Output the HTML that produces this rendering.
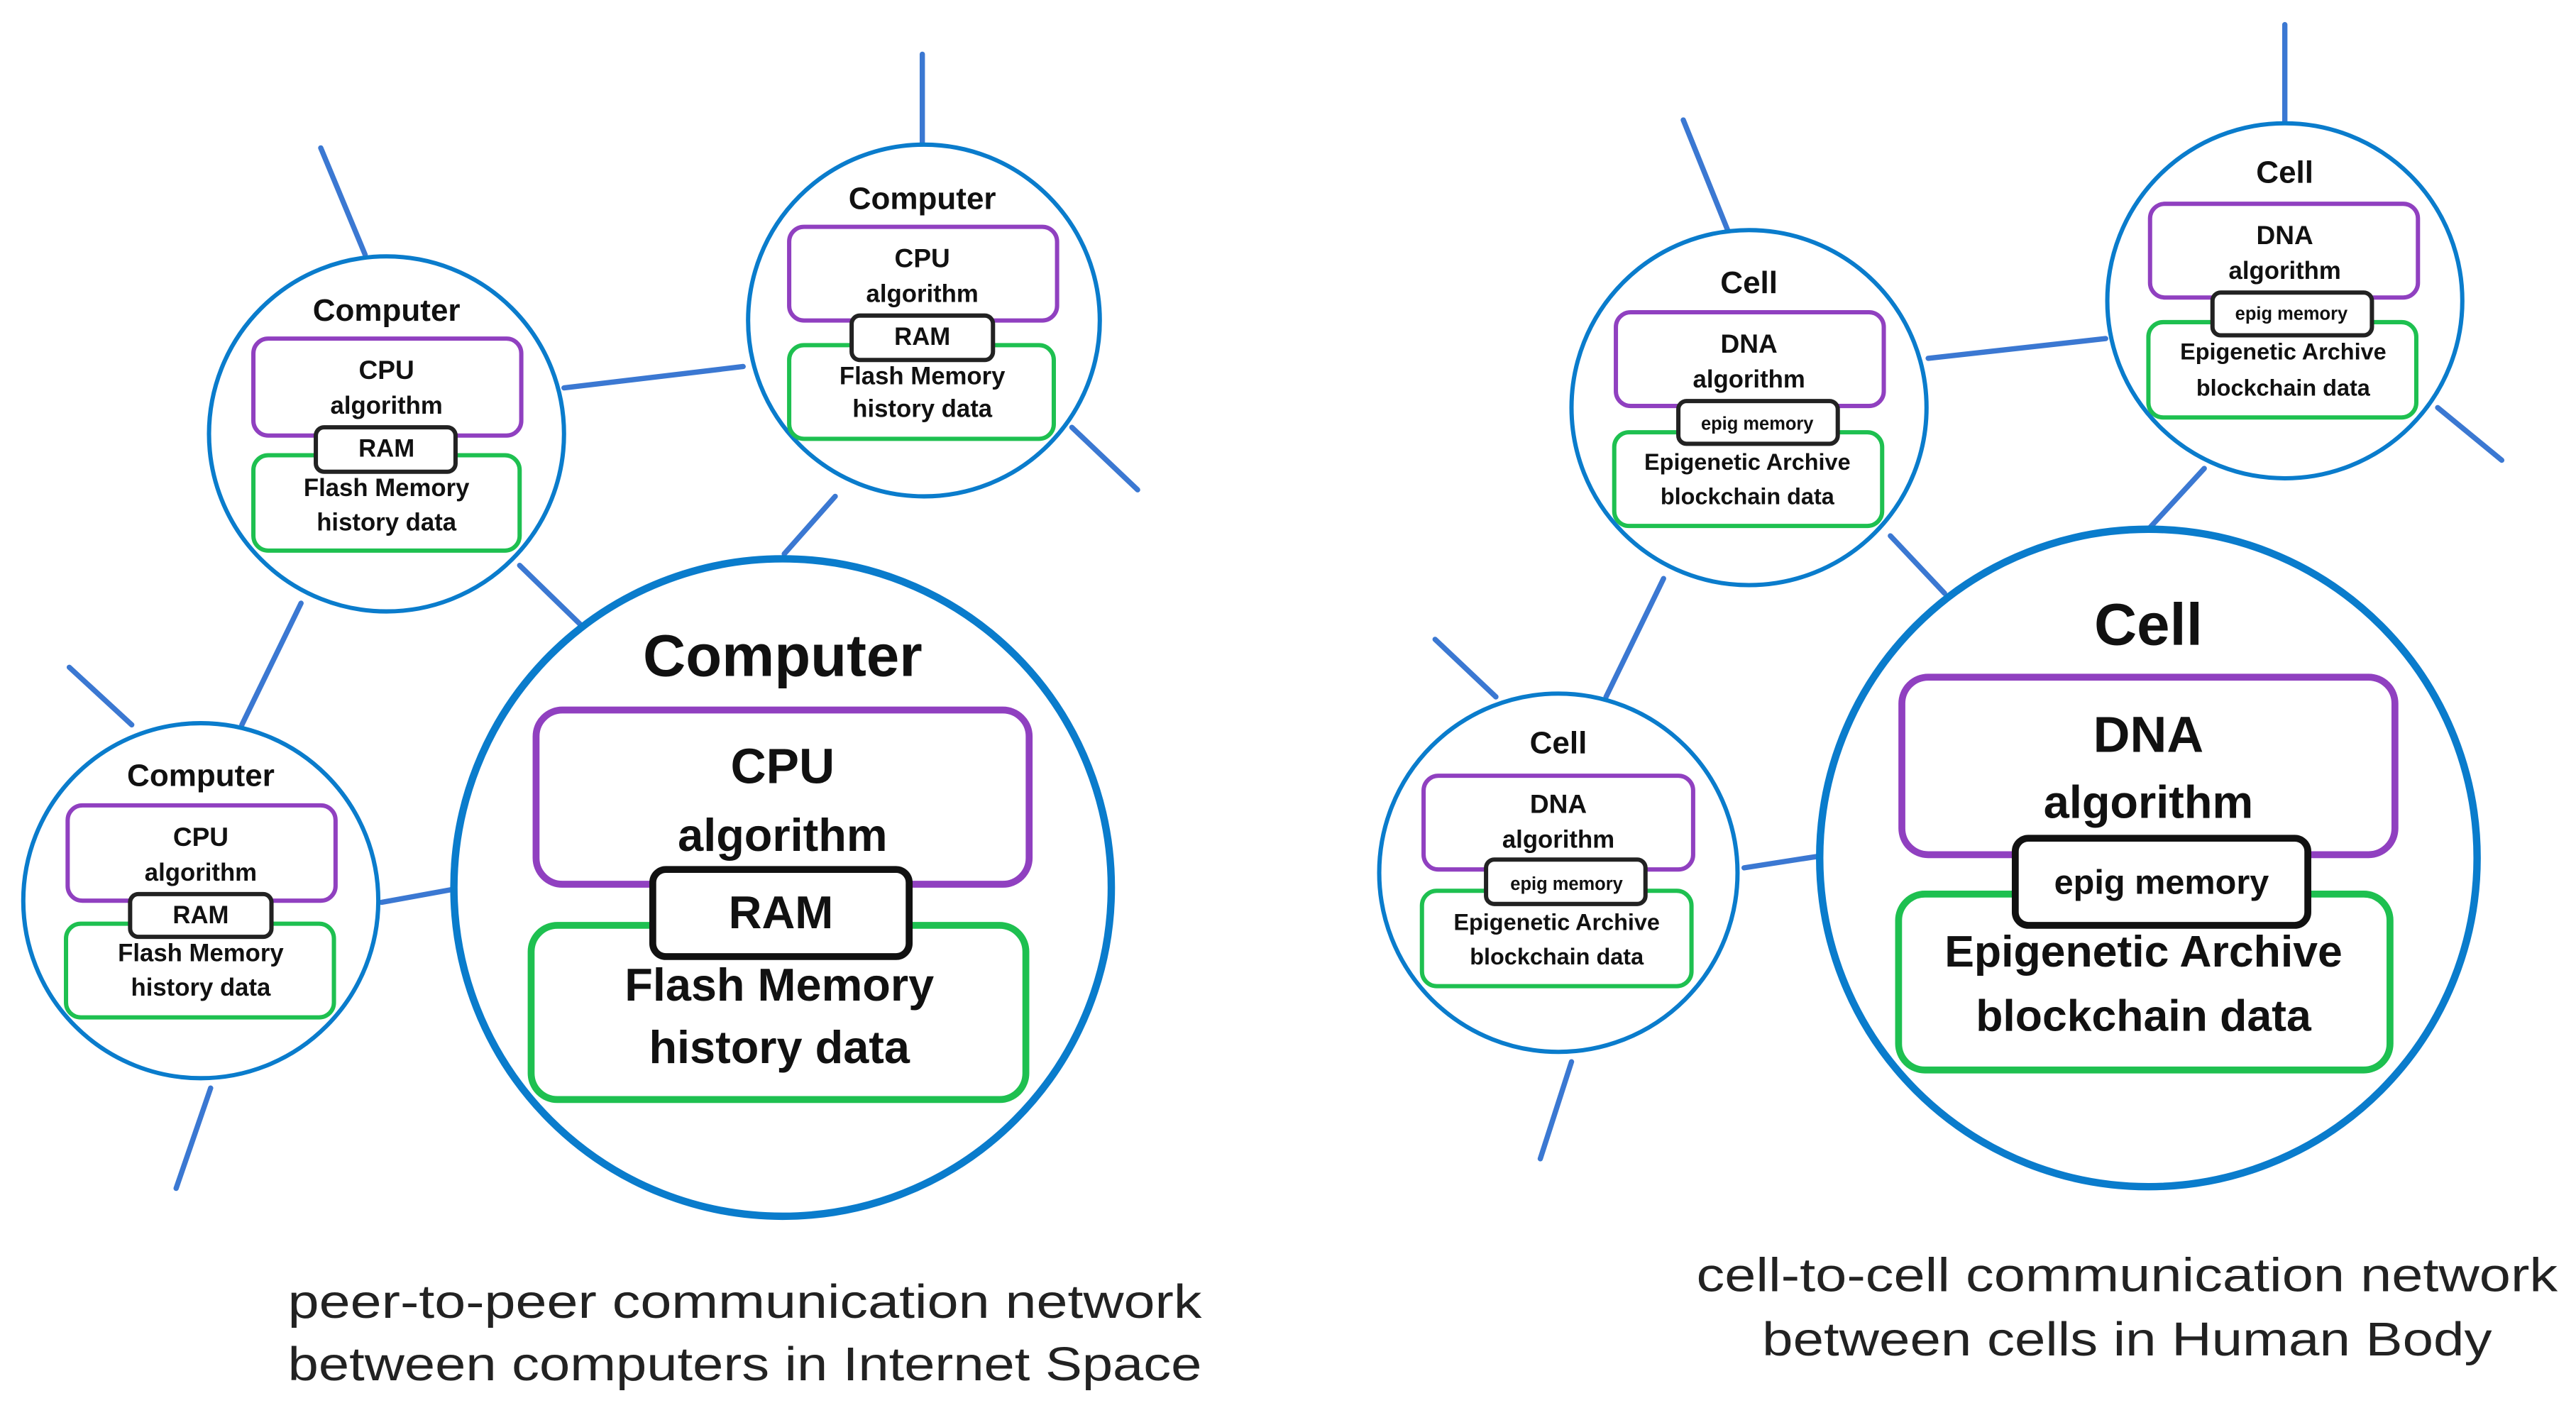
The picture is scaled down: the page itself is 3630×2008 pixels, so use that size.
<!DOCTYPE html>
<html><head><meta charset="utf-8"><style>
html,body{margin:0;padding:0;background:#fff;}
svg{display:block;}
text{font-family:"Liberation Sans",sans-serif;text-anchor:middle;dominant-baseline:central;fill:#111;}
.b{font-weight:bold;}
.cap{font-weight:normal;fill:#222;}
</style></head><body>
<svg width="3630" height="2008" viewBox="0 0 1567 867" xmlns="http://www.w3.org/2000/svg">
<rect width="1567" height="867" fill="#fff"/>
<g stroke="#3b78d2" stroke-width="3.2" fill="none" stroke-linecap="round">
<line x1="195" y1="90" x2="222" y2="155"/>
<line x1="561" y1="33" x2="561" y2="90"/>
<line x1="652" y1="260" x2="692" y2="298"/>
<line x1="343" y1="236" x2="452" y2="223"/>
<line x1="316" y1="344" x2="353" y2="380"/>
<line x1="477" y1="337" x2="508" y2="302"/>
<line x1="183" y1="367" x2="147" y2="441"/>
<line x1="42" y1="406" x2="80" y2="441"/>
<line x1="232" y1="549" x2="276" y2="541"/>
<line x1="128" y1="662" x2="107" y2="723"/>
<line x1="1024" y1="73" x2="1051" y2="140"/>
<line x1="1390" y1="15" x2="1390" y2="75"/>
<line x1="1483" y1="248" x2="1522" y2="280"/>
<line x1="1173" y1="218" x2="1281" y2="206"/>
<line x1="1150" y1="326" x2="1183" y2="361"/>
<line x1="1307" y1="322" x2="1341" y2="285"/>
<line x1="1012" y1="352" x2="977" y2="424"/>
<line x1="873" y1="389" x2="910" y2="424"/>
<line x1="1061" y1="528" x2="1106" y2="521"/>
<line x1="956" y1="646" x2="937" y2="705"/>
</g>
<g fill="#fff" stroke="#0a7ccc">
<circle cx="235" cy="264" r="108" stroke-width="2.6"/>
<circle cx="562" cy="195" r="107" stroke-width="2.6"/>
<circle cx="122" cy="548" r="108" stroke-width="2.6"/>
<circle cx="476" cy="540" r="200" stroke-width="4.5"/>
<circle cx="1064" cy="248" r="108" stroke-width="2.6"/>
<circle cx="1390" cy="183" r="108" stroke-width="2.6"/>
<circle cx="948" cy="531" r="109" stroke-width="2.6"/>
<circle cx="1307" cy="522" r="200" stroke-width="4.5"/>
</g>
<!-- boxes small -->
<g fill="#fff" stroke-width="2.6">
<rect x="154" y="206" width="163" height="59" rx="9" stroke="#9040c0"/>
<rect x="154" y="277" width="162" height="58" rx="9" stroke="#1ec050"/>
<rect x="192" y="260" width="85" height="27" rx="5" stroke="#222"/>
<rect x="480" y="138" width="163" height="57" rx="9" stroke="#9040c0"/>
<rect x="480" y="210" width="161" height="57" rx="9" stroke="#1ec050"/>
<rect x="518" y="192" width="86" height="27" rx="5" stroke="#222"/>
<rect x="41" y="490" width="163" height="58" rx="9" stroke="#9040c0"/>
<rect x="40" y="562" width="163" height="57" rx="9" stroke="#1ec050"/>
<rect x="79" y="544" width="86" height="26" rx="5" stroke="#222"/>
<rect x="983" y="190" width="163" height="57" rx="9" stroke="#9040c0"/>
<rect x="982" y="263" width="163" height="57" rx="9" stroke="#1ec050"/>
<rect x="1021" y="244" width="97" height="26" rx="5" stroke="#222"/>
<rect x="1308" y="124" width="163" height="57" rx="9" stroke="#9040c0"/>
<rect x="1307" y="196" width="163" height="58" rx="9" stroke="#1ec050"/>
<rect x="1346" y="178" width="97" height="26" rx="5" stroke="#222"/>
<rect x="866" y="472" width="164" height="57" rx="9" stroke="#9040c0"/>
<rect x="865" y="542" width="164" height="58" rx="9" stroke="#1ec050"/>
<rect x="904" y="523" width="97" height="27" rx="5" stroke="#222"/>
</g>
<g fill="#fff" stroke-width="4.2">
<rect x="326" y="432" width="300" height="106" rx="16" stroke="#9040c0"/>
<rect x="323" y="563" width="301" height="106" rx="16" stroke="#1ec050"/>
<rect x="397" y="529" width="156" height="53" rx="8" stroke="#111"/>
<rect x="1157" y="412" width="300" height="108" rx="16" stroke="#9040c0"/>
<rect x="1155" y="544" width="299" height="107" rx="16" stroke="#1ec050"/>
<rect x="1226" y="510" width="178" height="53" rx="8" stroke="#111"/>
</g>
<!-- small computer text -->
<g class="b">
<text x="235" y="189" font-size="19" class="b">Computer</text>
<text x="235" y="225" font-size="16" class="b">CPU</text>
<text x="235" y="247" font-size="15" class="b">algorithm</text>
<text x="235" y="273" font-size="15" class="b">RAM</text>
<text x="235" y="297" font-size="15" class="b">Flash Memory</text>
<text x="235" y="318" font-size="15" class="b">history data</text>
<text x="561" y="121" font-size="19" class="b">Computer</text>
<text x="561" y="157" font-size="16" class="b">CPU</text>
<text x="561" y="179" font-size="15" class="b">algorithm</text>
<text x="561" y="205" font-size="15" class="b">RAM</text>
<text x="561" y="229" font-size="15" class="b">Flash Memory</text>
<text x="561" y="249" font-size="15" class="b">history data</text>
<text x="122" y="472" font-size="19" class="b">Computer</text>
<text x="122" y="509" font-size="16" class="b">CPU</text>
<text x="122" y="531" font-size="15" class="b">algorithm</text>
<text x="122" y="557" font-size="15" class="b">RAM</text>
<text x="122" y="580" font-size="15" class="b">Flash Memory</text>
<text x="122" y="601" font-size="15" class="b">history data</text>
<text x="476" y="399" font-size="36" class="b">Computer</text>
<text x="476" y="466" font-size="30" class="b">CPU</text>
<text x="476" y="508" font-size="28" class="b">algorithm</text>
<text x="475" y="555" font-size="28" class="b">RAM</text>
<text x="474" y="599" font-size="28" class="b">Flash Memory</text>
<text x="474" y="637" font-size="28" class="b">history data</text>
<text x="1064" y="172" font-size="19" class="b">Cell</text>
<text x="1064" y="209" font-size="16" class="b">DNA</text>
<text x="1064" y="231" font-size="15" class="b">algorithm</text>
<text x="1069" y="258" font-size="11" class="b">epig memory</text>
<text x="1063" y="281" font-size="14" class="b">Epigenetic Archive</text>
<text x="1063" y="302" font-size="14" class="b">blockchain data</text>
<text x="1390" y="105" font-size="19" class="b">Cell</text>
<text x="1390" y="143" font-size="16" class="b">DNA</text>
<text x="1390" y="165" font-size="15" class="b">algorithm</text>
<text x="1394" y="191" font-size="11" class="b">epig memory</text>
<text x="1389" y="214" font-size="14" class="b">Epigenetic Archive</text>
<text x="1389" y="236" font-size="14" class="b">blockchain data</text>
<text x="948" y="452" font-size="19" class="b">Cell</text>
<text x="948" y="489" font-size="16" class="b">DNA</text>
<text x="948" y="511" font-size="15" class="b">algorithm</text>
<text x="953" y="538" font-size="11" class="b">epig memory</text>
<text x="947" y="561" font-size="14" class="b">Epigenetic Archive</text>
<text x="947" y="582" font-size="14" class="b">blockchain data</text>
<text x="1307" y="380" font-size="36" class="b">Cell</text>
<text x="1307" y="447" font-size="31" class="b">DNA</text>
<text x="1307" y="488" font-size="28" class="b">algorithm</text>
<text x="1315" y="537" font-size="21" class="b">epig memory</text>
<text x="1304" y="579" font-size="27" class="b">Epigenetic Archive</text>
<text x="1304" y="618" font-size="27" class="b">blockchain data</text>
</g>
<text x="453" y="792" font-size="29" class="cap" textLength="556" lengthAdjust="spacingAndGlyphs">peer-to-peer communication network</text>
<text x="453" y="830" font-size="29" class="cap" textLength="556" lengthAdjust="spacingAndGlyphs">between computers in Internet Space</text>
<text x="1294" y="776" font-size="29" class="cap" textLength="524" lengthAdjust="spacingAndGlyphs">cell-to-cell communication network</text>
<text x="1294" y="815" font-size="29" class="cap" textLength="444" lengthAdjust="spacingAndGlyphs">between cells in Human Body</text>
</svg>
</body></html>
